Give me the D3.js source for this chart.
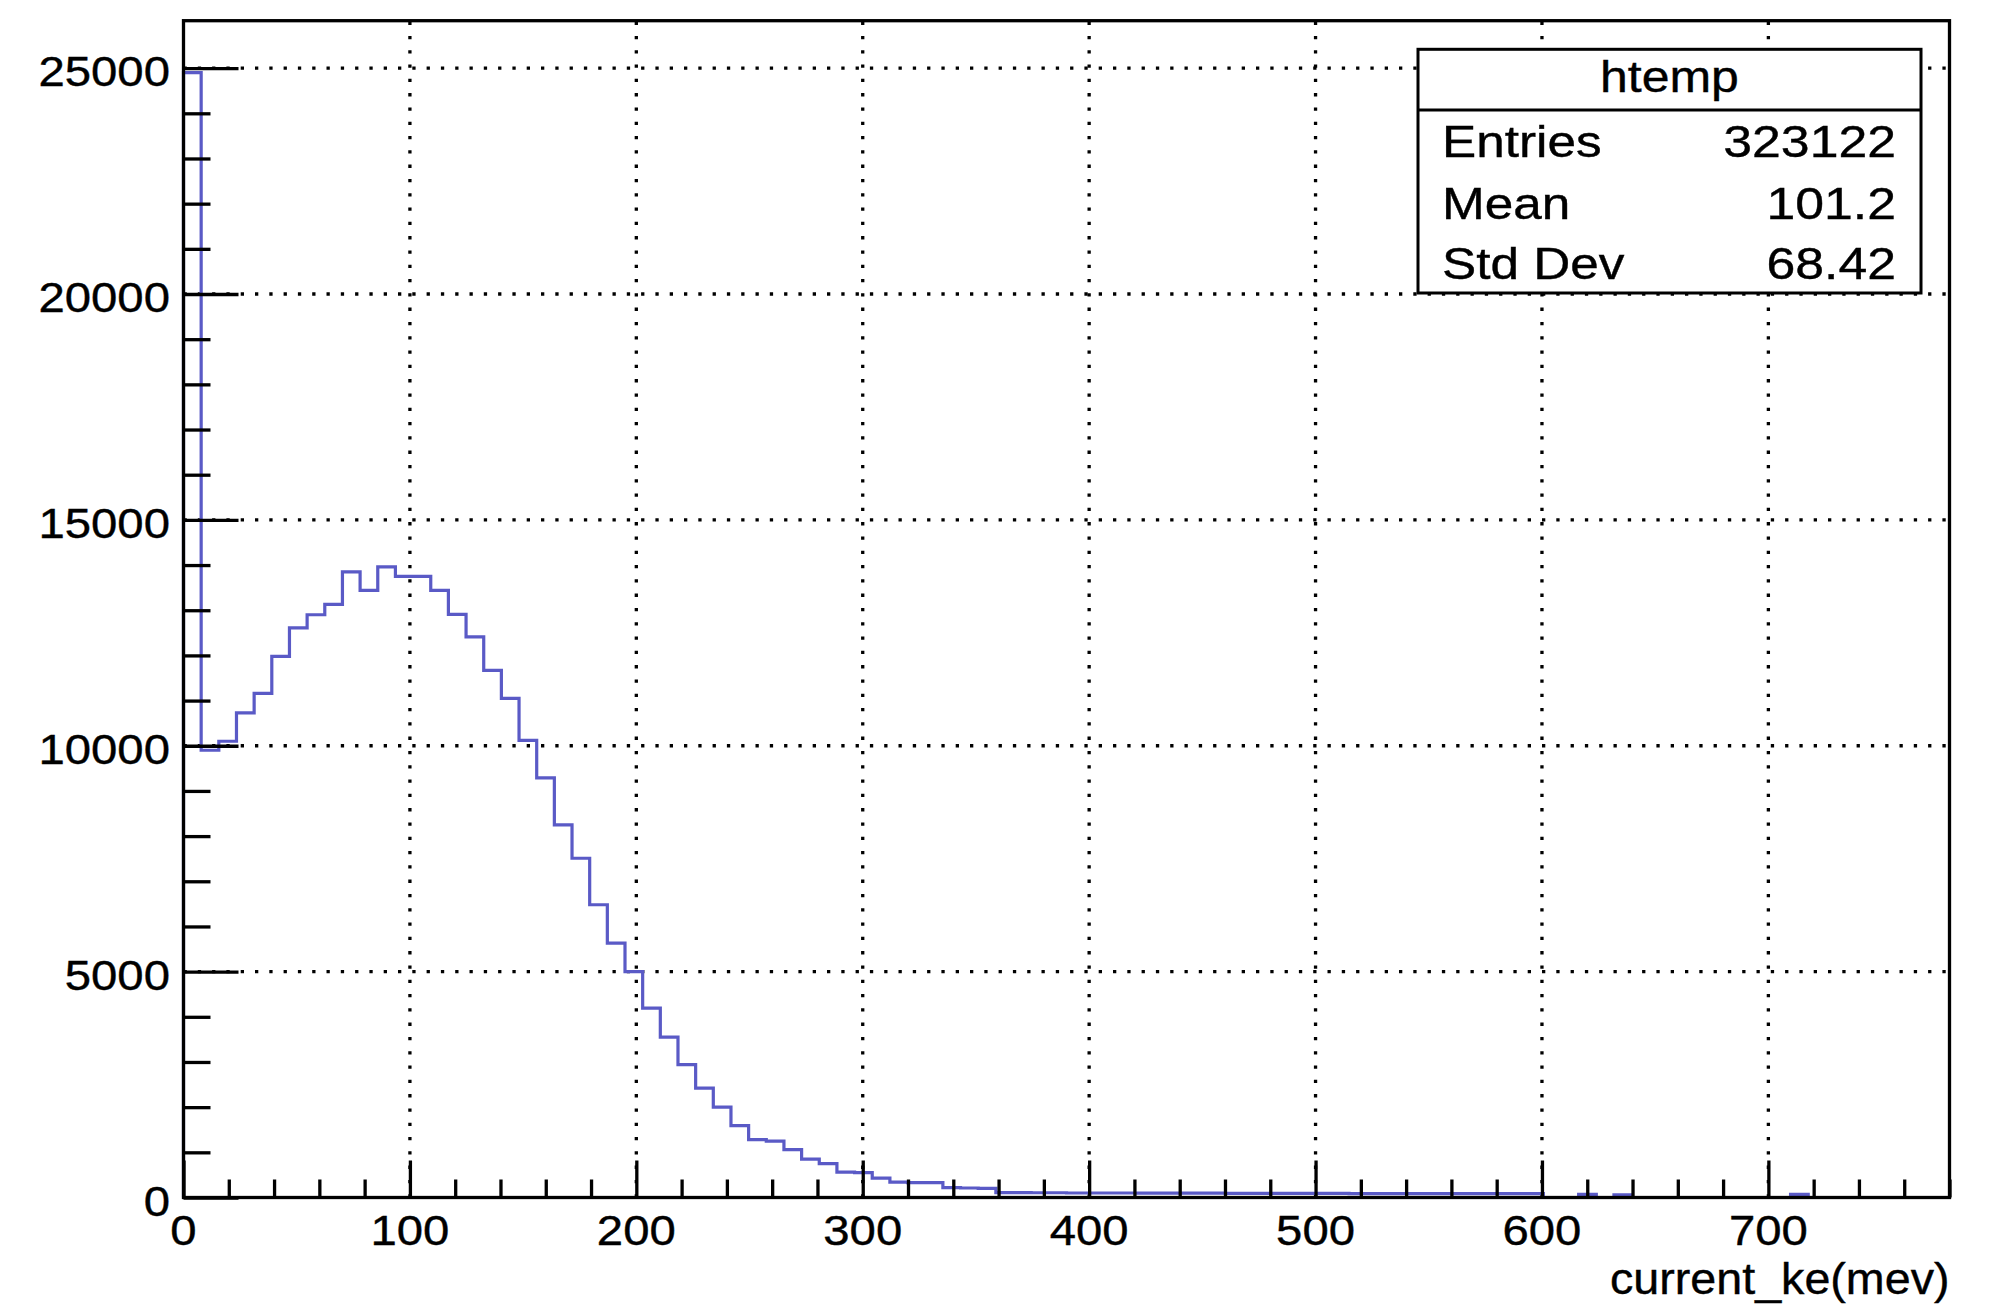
<!DOCTYPE html>
<html>
<head>
<meta charset="utf-8">
<script src="https://cdn.jsdelivr.net/npm/d3@7"></script>
<style>
  body { margin: 0; background: #fff; }
  text { font-family: "Liberation Sans", Helvetica, Arial, sans-serif; fill: #000; stroke: #000; stroke-width: 0.4; }
</style>
</head>
<body>
<div id="chart"></div>
<script>
var w = 1998;
var h = 1306;

// histogram: 100 bins from 0 to 780
var xMin = 0;
var xMax = 780;
var binWidth = 7.8;
var counts = [
  24900, 9900, 10100, 10730, 11160, 11980, 12610, 12900, 13130, 13850,
  13440, 13960, 13750, 13750, 13440, 12910, 12410, 11670, 11050, 10120,
  9290, 8250, 7510, 6480, 5630, 5000, 4190, 3550, 2940, 2420,
  2000, 1590, 1280, 1250, 1060, 850, 750, 560, 550, 430,
  340, 330, 330, 220, 210, 200, 110, 110, 105, 105,
  100, 100, 100, 100, 95, 95, 95, 95, 95, 90,
  90, 90, 90, 90, 90, 90, 85, 85, 85, 85,
  85, 85, 85, 85, 85, 85, 85, 0, 0, 70,
  0, 60, 0, 0, 0, 0, 0, 0, 0, 0,
  0, 70, 0, 0, 0, 0, 0, 0, 0, 0
];
var xTicks = [0, 100, 200, 300, 400, 500, 600, 700];
var yTicks = [0, 5000, 10000, 15000, 20000, 25000];
var xMinorStep = 20;
var yMinorStep = 1000;
var yMax = 26050;

var statTitle = "htemp";
var statNames = ["Entries", "Mean", "Std Dev"];
var statValues = ["323122", "101.2", "68.42"];
var xTitle = "current_ke(mev)";

var frame = {left: 183.5, right: 1949.5, top: 20.7, bottom: 1197.5};

var svg = d3.select("#chart")
            .append("svg")
            .attr("width", w)
            .attr("height", h);

// the reference font is wider than Liberation Sans, stretch glyphs a bit
function widen(sel, k) {
    sel.each(function() {
        var len = this.getComputedTextLength();
        d3.select(this)
            .attr("textLength", len * k)
            .attr("lengthAdjust", "spacingAndGlyphs");
    });
}

// scales
var xScale = d3.scaleLinear()
    .domain([xMin, xMax])
    .range([frame.left, frame.right]);
var yScale = d3.scaleLinear()
    .domain([0, yMax])
    .range([frame.bottom, frame.top]);

// dotted grid
var grid = svg.append("g")
    .attr("stroke", "#000")
    .attr("stroke-width", 3.3)
    .attr("stroke-dasharray", "3.3,11");
grid.selectAll(".vgrid")
    .data(xTicks.filter(d => d > 0))
    .enter()
    .append("line")
    .attr("x1", d => xScale(d))
    .attr("x2", d => xScale(d))
    .attr("y1", frame.bottom)
    .attr("y2", frame.top);
grid.selectAll(".hgrid")
    .data(yTicks.filter(d => d > 0))
    .enter()
    .append("line")
    .attr("x1", frame.left)
    .attr("x2", frame.right)
    .attr("y1", d => yScale(d))
    .attr("y2", d => yScale(d));

// histogram outline as steps
var pts = [[xMin, 0]];
counts.forEach((c, i) => {
    pts.push([xMin + i * binWidth, c]);
    pts.push([xMin + (i + 1) * binWidth, c]);
});
pts.push([xMax, 0]);
var line = d3.line()
    .x(d => xScale(d[0]))
    .y(d => yScale(d[1]));
svg.append("path")
    .datum(pts)
    .attr("d", line)
    .attr("fill", "none")
    .attr("stroke", "#5a5ac6")
    .attr("stroke-width", 3.2);

// axes: ROOT style ticks drawn inward
var xMinor = d3.range(xMin, xMax + 0.1, xMinorStep).filter(d => d % 100 !== 0);
var yMinor = d3.range(0, 25001, yMinorStep).filter(d => d % 5000 !== 0);

var xAxis = d3.axisTop(xScale)
    .tickValues(xTicks)
    .tickSize(37)
    .tickFormat("");
var xAxisMinor = d3.axisTop(xScale)
    .tickValues(xMinor)
    .tickSize(18)
    .tickFormat("");
var yAxis = d3.axisRight(yScale)
    .tickValues(yTicks)
    .tickSize(55)
    .tickFormat("");
var yAxisMinor = d3.axisRight(yScale)
    .tickValues(yMinor)
    .tickSize(27)
    .tickFormat("");

[xAxis, xAxisMinor].forEach(a => {
    svg.append("g")
        .attr("transform", "translate(0," + frame.bottom + ")")
        .call(a)
        .call(g => g.select(".domain").remove())
        .selectAll("line").attr("stroke", "#000").attr("stroke-width", 3.3);
});
[yAxis, yAxisMinor].forEach(a => {
    svg.append("g")
        .attr("transform", "translate(" + frame.left + ",0)")
        .call(a)
        .call(g => g.select(".domain").remove())
        .selectAll("line").attr("stroke", "#000").attr("stroke-width", 3.3);
});

// frame
svg.append("rect")
    .attr("x", frame.left)
    .attr("y", frame.top)
    .attr("width", frame.right - frame.left)
    .attr("height", frame.bottom - frame.top)
    .attr("fill", "none")
    .attr("stroke", "#000")
    .attr("stroke-width", 3.3);

// tick labels
svg.selectAll(".xlab")
    .data(xTicks)
    .enter()
    .append("text")
    .attr("x", d => xScale(d))
    .attr("y", 1245)
    .attr("text-anchor", "middle")
    .attr("font-size", 43)
    .text(d => d)
    .call(widen, 1.1);
svg.selectAll(".ylab")
    .data(yTicks)
    .enter()
    .append("text")
    .attr("x", 170)
    .attr("y", d => yScale(d) + 18)
    .attr("text-anchor", "end")
    .attr("font-size", 43)
    .text(d => d)
    .call(widen, 1.1);

// axis title
svg.append("text")
    .attr("x", frame.right)
    .attr("y", 1294)
    .attr("text-anchor", "end")
    .attr("font-size", 44)
    .text(xTitle)
    .call(widen, 1.06);

// stats box
var box = {left: 1418, right: 1921, top: 49.3, bottom: 293, sep: 110};
svg.append("rect")
    .attr("x", box.left)
    .attr("y", box.top)
    .attr("width", box.right - box.left)
    .attr("height", box.bottom - box.top)
    .attr("fill", "#fff")
    .attr("stroke", "#000")
    .attr("stroke-width", 3);
svg.append("line")
    .attr("x1", box.left)
    .attr("x2", box.right)
    .attr("y1", box.sep)
    .attr("y2", box.sep)
    .attr("stroke", "#000")
    .attr("stroke-width", 3);
svg.append("text")
    .attr("x", (box.left + box.right) / 2)
    .attr("y", 92)
    .attr("text-anchor", "middle")
    .attr("font-size", 45)
    .text(statTitle)
    .call(widen, 1.11);
var rowY = [157, 218.5, 279];
statNames.forEach((n, i) => {
    svg.append("text")
        .attr("x", 1442)
        .attr("y", rowY[i])
        .attr("font-size", 45)
        .text(n)
        .call(widen, 1.14);
    svg.append("text")
        .attr("x", 1896)
        .attr("y", rowY[i])
        .attr("text-anchor", "end")
        .attr("font-size", 45)
        .text(statValues[i])
        .call(widen, 1.15);
});
</script>
</body>
</html>
